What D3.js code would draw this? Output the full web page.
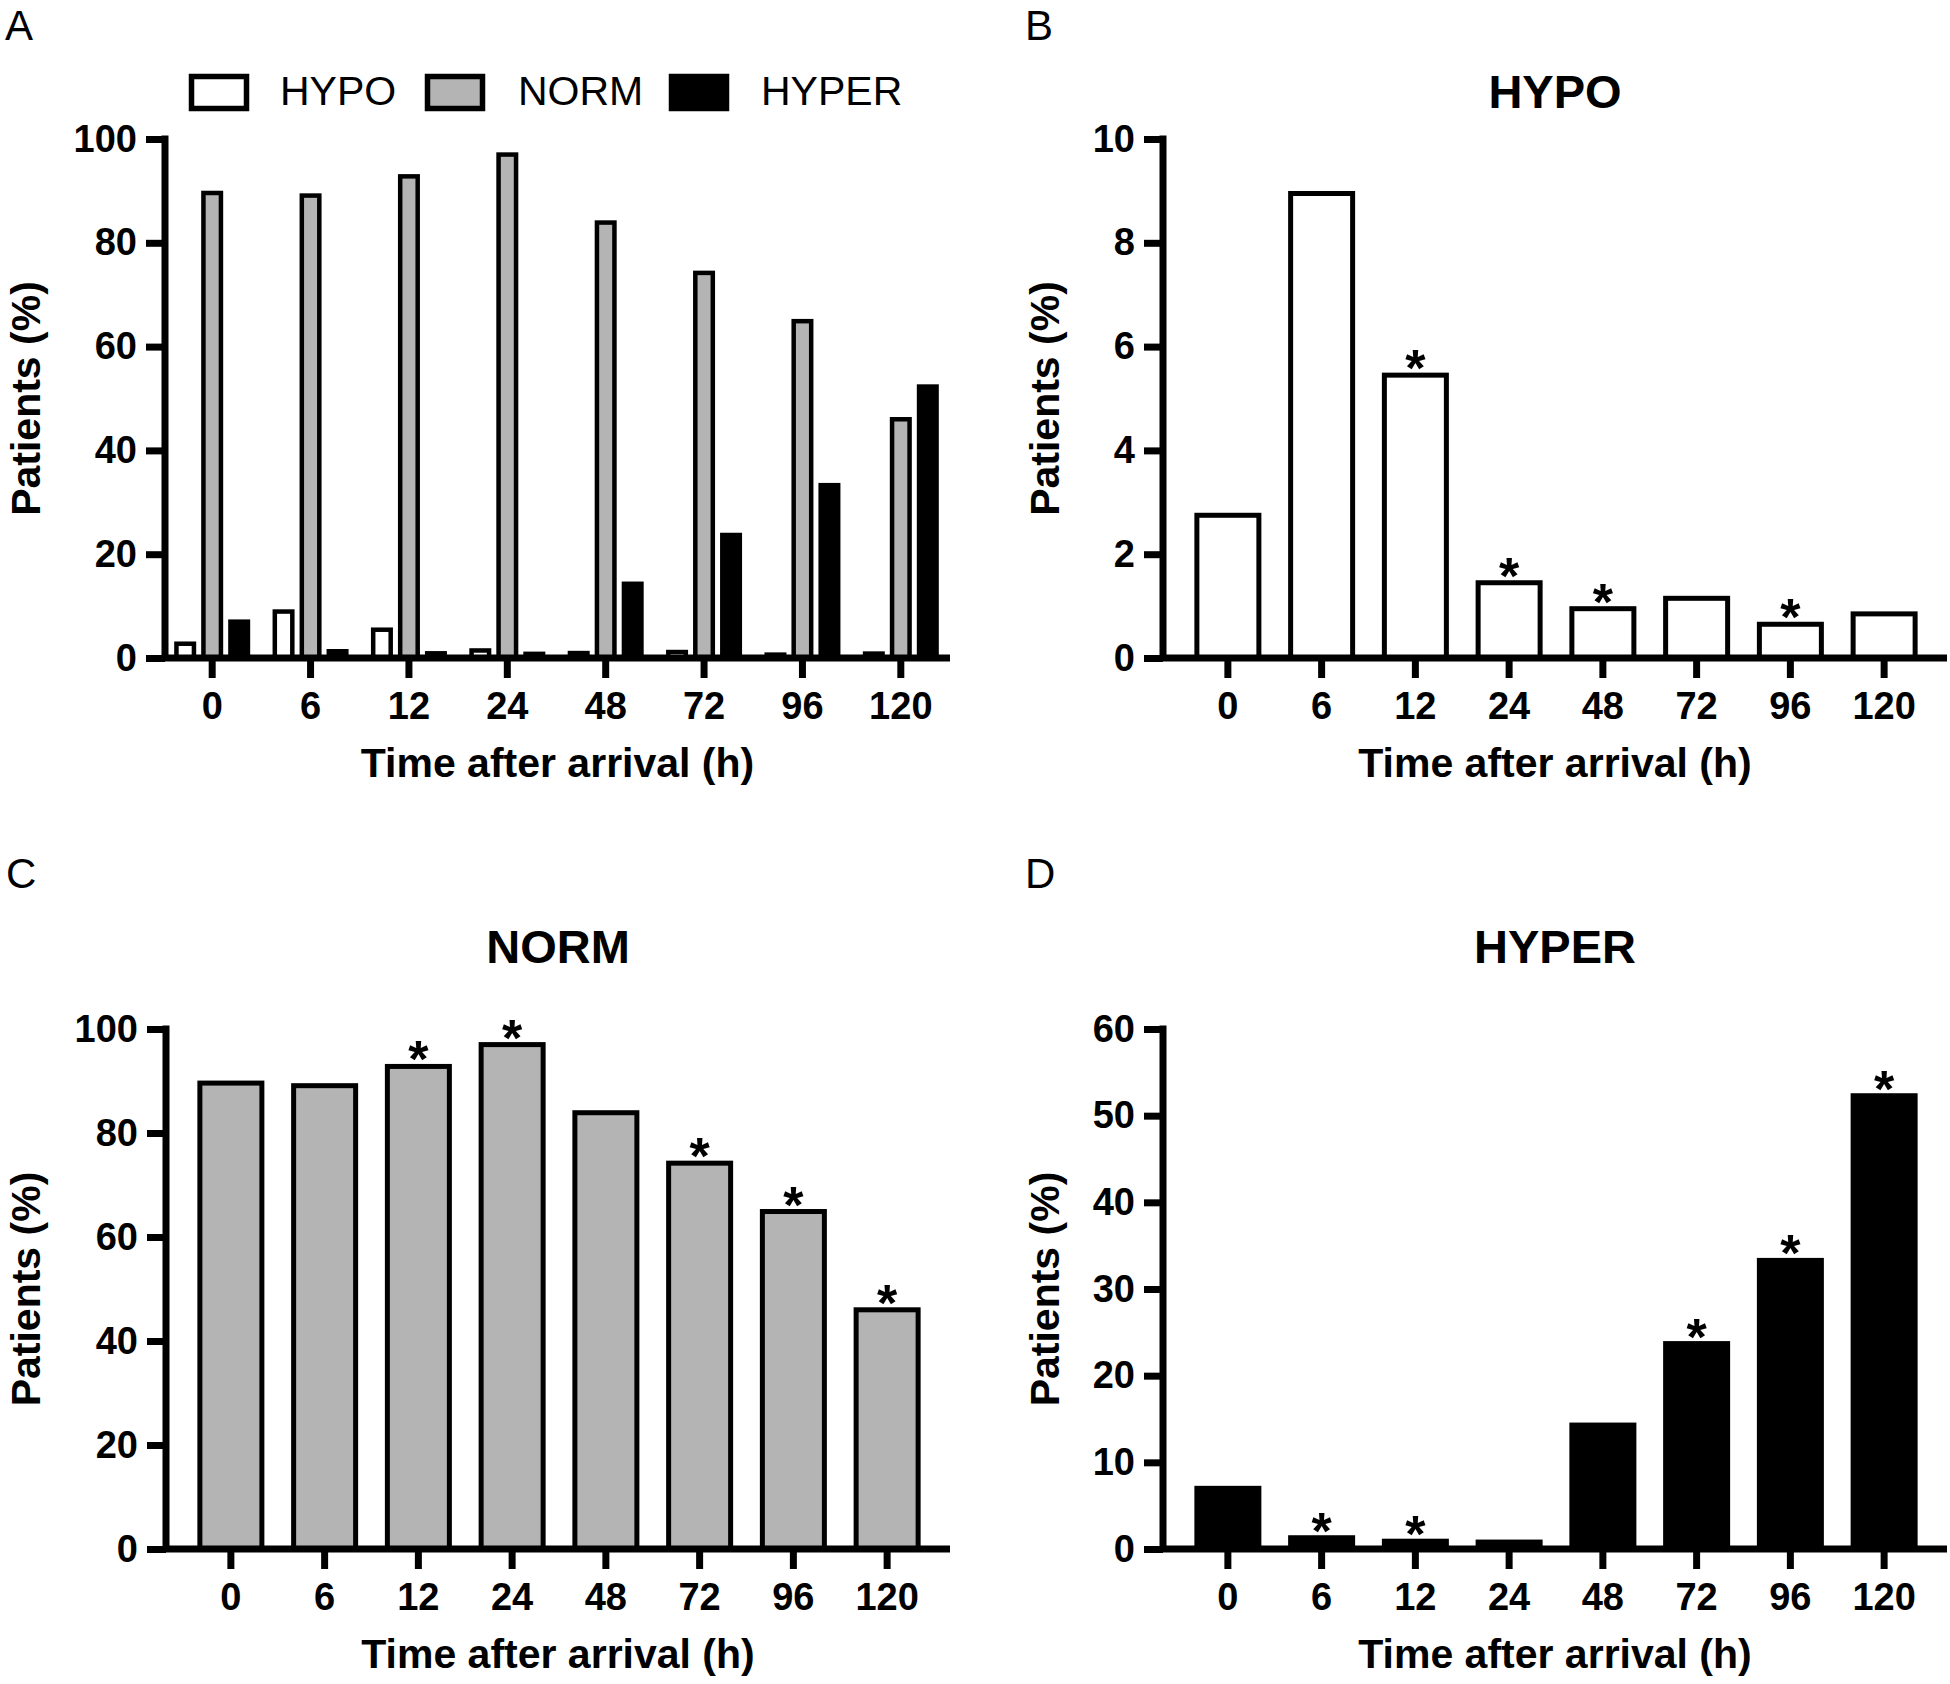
<!DOCTYPE html>
<html><head><meta charset="utf-8">
<script src="https://cdn.jsdelivr.net/npm/d3@7"></script>
<style>
html,body{margin:0;padding:0;background:#fff;}
svg{display:block;}
text{font-family:"Liberation Sans",Arial,Helvetica,sans-serif;}
</style>
</head><body>
<svg id="chart" width="1950" height="1684"></svg>
<script>
// ---------------- data ----------------
const times = ["0", "6", "12", "24", "48", "72", "96", "120"];
const seriesNames = ["HYPO", "NORM", "HYPER"];
const hypo  = [2.75, 8.95, 5.45, 1.45, 0.95, 1.15, 0.65, 0.85];
const norm  = [89.6, 89.1, 92.8, 97.0, 83.9, 74.2, 64.9, 46.0];
const hyper = [7.0, 1.3, 0.9, 0.8, 14.3, 23.7, 33.3, 52.3];
const hypoSig  = ["12", "24", "48", "96"];
const normSig  = ["12", "24", "72", "96", "120"];
const hyperSig = ["6", "12", "72", "96", "120"];
const ticksPercent = [0, 20, 40, 60, 80, 100];
const ticksHypo = [0, 2, 4, 6, 8, 10];
const ticksHyper = [0, 10, 20, 30, 40, 50, 60];
const panelLetters = ["A", "B", "C", "D"];
const xTitle = "Time after arrival (h)";
const yTitle = "Patients (%)";

// ---------------- style ----------------
const FILL = {HYPO: "#ffffff", NORM: "#b4b4b4", HYPER: "#000000"};
const AXW = 7;
const svg = d3.select("#chart");
const seriesData = {HYPO: hypo, NORM: norm, HYPER: hyper};

function frame(p) {
  const y = d3.scaleLinear().domain([0, p.ymax]).range([p.yBot, p.yTop]);
  const x0 = d3.scaleBand().domain(times).range([p.bandStart, p.bandEnd]).padding(0);
  return {x0, y};
}

function axes(p, x0, y, ticks) {
  const gy = svg.append("g").attr("transform", `translate(${p.ox},0)`)
    .call(d3.axisLeft(y).tickValues(ticks).tickSize(19).tickPadding(9).tickFormat(d3.format("d")));
  gy.select(".domain").remove();
  gy.selectAll(".tick line").attr("stroke", "#000").attr("stroke-width", AXW);
  gy.selectAll(".tick text").attr("fill", "#000").style("font-size", "38px").style("font-weight", "bold");
  gy.append("line").attr("x1", 0).attr("x2", 0).attr("y1", p.yTop - AXW / 2).attr("y2", p.yBot)
    .attr("stroke", "#000").attr("stroke-width", AXW);
  const gx = svg.append("g").attr("transform", `translate(0,${p.yBot})`)
    .call(d3.axisBottom(x0).tickSize(20).tickSizeOuter(0));
  gx.select(".domain").remove();
  gx.selectAll(".tick line").attr("stroke", "#000").attr("stroke-width", AXW);
  gx.selectAll(".tick text").attr("fill", "#000").attr("y", 61).attr("dy", 0)
    .style("font-size", "38px").style("font-weight", "bold");
  gx.append("line").attr("x1", p.ox).attr("x2", p.axisEnd).attr("y1", 0).attr("y2", 0)
    .attr("stroke", "#000").attr("stroke-width", AXW);
  svg.append("text").attr("x", (p.ox + p.axisEnd) / 2).attr("y", p.yBot + 119)
    .attr("text-anchor", "middle").style("font-size", "41px").style("font-weight", "bold").text(xTitle);
  svg.append("text").attr("transform", `translate(${p.yTitleX},${(p.yTop + p.yBot) / 2}) rotate(-90)`)
    .attr("text-anchor", "middle").style("font-size", "41px").style("font-weight", "bold").text(yTitle);
  svg.append("text").attr("x", p.letterX).attr("y", p.letterY)
    .style("font-size", "42px").text(p.letter);
  if (p.title) {
    svg.append("text").attr("x", (p.ox + p.axisEnd) / 2).attr("y", p.titleY)
      .attr("text-anchor", "middle").style("font-size", "47px").style("font-weight", "bold").text(p.title);
  }
}

// ---------------- panel A (grouped) ----------------
const pA = {ox: 165, axisEnd: 950, bandStart: 163, bandEnd: 950, yTop: 139, yBot: 658, ymax: 100,
  yTitleX: 40, letterX: 5, letterY: 40, letter: panelLetters[0]};
{
  const {x0, y} = frame(pA);
  const x1 = d3.scaleBand().domain(seriesNames).range([-38, 38]).paddingInner(5 / 27).paddingOuter(0);
  const sw = 4.5;
  const g = svg.append("g");
  seriesNames.forEach(s => {
    g.selectAll(null).data(times.map((t, i) => ({t, v: seriesData[s][i]}))).enter().append("rect")
      .attr("x", d => x0(d.t) + x0.bandwidth() / 2 + x1(s) + sw / 2)
      .attr("width", x1.bandwidth() - sw)
      .attr("y", d => y(d.v))
      .attr("height", d => y(0) - y(d.v))
      .attr("fill", FILL[s]).attr("stroke", "#000").attr("stroke-width", sw);
  });
  axes(pA, x0, y, ticksPercent);
  const legX = [189, 425, 669], legTX = [280, 518, 761];
  seriesNames.forEach((s, i) => {
    svg.append("rect").attr("x", legX[i] + 2.5).attr("y", 76.5).attr("width", 55).attr("height", 32)
      .attr("fill", FILL[s]).attr("stroke", "#000").attr("stroke-width", 5.5);
    svg.append("text").attr("x", legTX[i]).attr("y", 105).style("font-size", "41px").text(s);
  });
}

// ---------------- single series panels ----------------
function single(p, values, sig, fill, ticks) {
  const {x0, y} = frame(p);
  const sw = 5;
  const bw = 67;
  const g = svg.append("g");
  const data = times.map((t, i) => ({t, v: values[i]}));
  g.selectAll(null).data(data).enter().append("rect")
    .attr("x", d => x0(d.t) + x0.bandwidth() / 2 - bw / 2 + sw / 2)
    .attr("width", bw - sw)
    .attr("y", d => y(d.v))
    .attr("height", d => y(0) - y(d.v))
    .attr("fill", fill).attr("stroke", "#000").attr("stroke-width", sw);
  g.selectAll(null).data(data.filter(d => sig.includes(d.t))).enter().append("text")
    .attr("x", d => x0(d.t) + x0.bandwidth() / 2)
    .attr("y", d => y(d.v) + 11)
    .attr("text-anchor", "middle").style("font-size", "52px").style("font-weight", "bold").text("*");
  axes(p, x0, y, ticks);
}

single({ox: 1163, axisEnd: 1947, bandStart: 1181, bandEnd: 1931, yTop: 139, yBot: 658, ymax: 10,
  yTitleX: 1059, letterX: 1025, letterY: 40, letter: panelLetters[1], title: seriesNames[0], titleY: 108},
  hypo, hypoSig, FILL.HYPO, ticksHypo);
single({ox: 166, axisEnd: 950, bandStart: 184, bandEnd: 934, yTop: 1029, yBot: 1549, ymax: 100,
  yTitleX: 40, letterX: 6, letterY: 888, letter: panelLetters[2], title: seriesNames[1], titleY: 963},
  norm, normSig, FILL.NORM, ticksPercent);
single({ox: 1163, axisEnd: 1947, bandStart: 1181, bandEnd: 1931, yTop: 1029, yBot: 1549, ymax: 60,
  yTitleX: 1059, letterX: 1025, letterY: 888, letter: panelLetters[3], title: seriesNames[2], titleY: 963},
  hyper, hyperSig, FILL.HYPER, ticksHyper);
</script>
</body></html>
